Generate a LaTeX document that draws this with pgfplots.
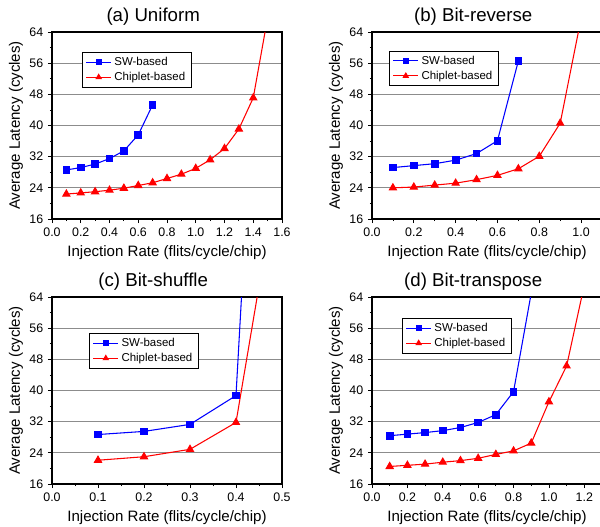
\documentclass[border=0pt]{standalone}
\usepackage{fontspec}
\setmainfont{Liberation Sans}
\usepackage{pgfplots}
\pgfplotsset{compat=1.18}

\pgfplotsset{
  panel/.style={
    scale only axis,
    width=172.5pt, height=140.25pt,
    ymin=16, ymax=64,
    ytick={16,24,...,64},
    minor x tick num=1,
    minor y tick num=1,
    tick pos=left,
    tick align=outside,
    major tick length=3pt,
    minor tick length=1.6pt,
    every tick/.style={black, line width=0.6pt},
    axis line style={line width=0.8pt},
    ymajorgrids,
    major grid style={black!45, line width=0.7pt},
    /pgf/number format/assume math mode=true,
    ticklabel style={font=\fontsize{9.3}{10}\selectfont},
    xticklabel style={/pgf/number format/.cd, fixed, fixed zerofill, precision=1},
    label style={font=\fontsize{11.3}{13}\selectfont},
    xlabel={Injection Rate (flits/cycle/chip)},
    ylabel={Average Latency (cycles)},
    xlabel style={at={(rel axis cs:0.5,-0.18)}, anchor=center},
    ylabel style={at={(rel axis cs:-0.157,0.5)}, anchor=center},
    every axis title shift=0pt,
    title style={at={(rel axis cs:0.44,1.08)}, anchor=center, font=\fontsize{14}{16}\selectfont},
    legend style={draw=black, line width=0.6pt, font=\fontsize{8.6}{10}\selectfont,
      anchor=north west, inner xsep=2.5pt, inner ysep=1.5pt, row sep=-0.5pt},
    legend cell align=left,
    legend image code/.code={\draw[mark repeat=2,mark phase=2,mark options={scale=0.7}] plot coordinates {(0cm,0cm)(0.33cm,0cm)(0.66cm,0cm)};},
  },
  sw/.style={blue, line width=0.8pt, mark=square*, mark size=2.5pt, mark options={solid}},
  cb/.style={red, line width=0.8pt, mark=triangle*, mark size=3pt, mark options={solid}},
  tail/.style={line width=0.8pt, no markers, forget plot},
}

\begin{document}
\begin{tikzpicture}
\useasboundingbox (0,0) rectangle (450pt,394.5pt);

% (a) Uniform
\begin{axis}[panel, at={(39pt,230.25pt)},
  title={(a) Uniform},
  xmin=0, xmax=1.6, xtick={0,0.2,...,1.6},
  legend style={at={(0.13,0.893)}}]
\addplot[sw] coordinates {
  (0.1,28.6) (0.2,29.2) (0.3,30.1) (0.4,31.5) (0.5,33.5) (0.6,37.6) (0.7,45.3)};
\addplot[cb] coordinates {
  (0.1,22.4) (0.2,22.7) (0.3,23.0) (0.4,23.4) (0.5,23.9) (0.6,24.6) (0.7,25.3)
  (0.8,26.4) (0.9,27.5) (1.0,29.0) (1.1,31.2) (1.2,34.1) (1.3,39.1) (1.4,47.1)};
\addplot[red, tail] coordinates {(1.4,47.1) (1.5,67.7)};
\legend{SW-based, Chiplet-based}
\end{axis}

% (b) Bit-reverse
\begin{axis}[panel, at={(279pt,230.25pt)},
  title={(b) Bit-reverse},
  xmin=0, xmax=1.1, xtick={0,0.2,...,1.0},
  legend style={at={(0.074,0.9)}}]
\addplot[sw] coordinates {
  (0.1,29.2) (0.2,29.7) (0.3,30.2) (0.4,31.1) (0.5,32.8) (0.6,36.1) (0.7,56.6)};
\addplot[cb] coordinates {
  (0.1,24.0) (0.2,24.2) (0.3,24.7) (0.4,25.2) (0.5,26.1) (0.6,27.2) (0.7,28.9)
  (0.8,32.1) (0.9,40.6)};
\addplot[red, tail] coordinates {(0.9,40.6) (1.0,67.5)};
\legend{SW-based, Chiplet-based}
\end{axis}

% (c) Bit-shuffle
\begin{axis}[panel, at={(39pt,31.5pt)},
  title={(c) Bit-shuffle},
  xmin=0, xmax=0.5, xtick={0,0.1,...,0.5},
  legend style={at={(0.161,0.807)}}]
\addplot[sw] coordinates {
  (0.1,28.7) (0.2,29.5) (0.3,31.3) (0.4,38.7)};
\addplot[blue, tail] coordinates {(0.4,38.7) (0.5,250)};
\addplot[cb] coordinates {
  (0.1,22.1) (0.2,23.0) (0.3,24.9) (0.4,31.8)};
\addplot[red, tail] coordinates {(0.4,31.8) (0.5,101.8)};
\legend{SW-based, Chiplet-based}
\end{axis}

% (d) Bit-transpose
\begin{axis}[panel, at={(279pt,31.5pt)},
  title={(d) Bit-transpose},
  xmin=0, xmax=1.3, xtick={0,0.2,...,1.2},
  legend style={at={(0.13,0.888)}}]
\addplot[sw] coordinates {
  (0.1,28.4) (0.2,28.8) (0.3,29.2) (0.4,29.7) (0.5,30.5) (0.6,31.8) (0.7,33.8)
  (0.8,39.7)};
\addplot[blue, tail] coordinates {(0.8,39.7) (0.9,65.0)};
\addplot[cb] coordinates {
  (0.1,20.5) (0.2,20.8) (0.3,21.1) (0.4,21.6) (0.5,22.0) (0.6,22.6) (0.7,23.6)
  (0.8,24.5) (0.9,26.5) (1.0,37.1) (1.1,46.3)};
\addplot[red, tail] coordinates {(1.1,46.3) (1.2,67.1)};
\legend{SW-based, Chiplet-based}
\end{axis}
\end{tikzpicture}
\end{document}
